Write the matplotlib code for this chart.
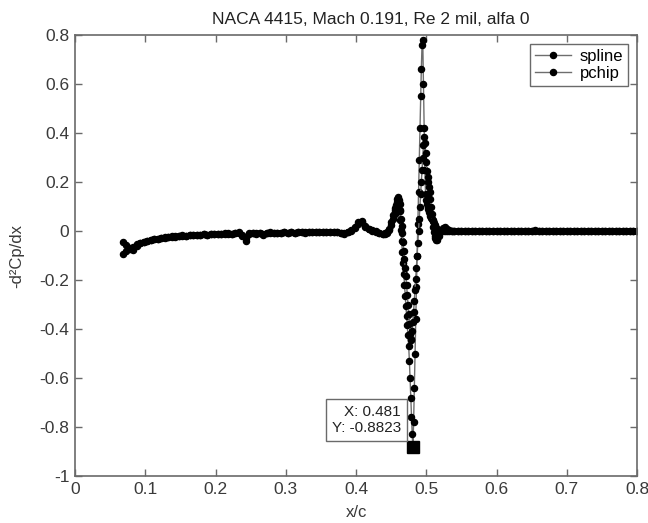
import matplotlib
matplotlib.use("Agg")
import matplotlib.pyplot as plt

plt.rcParams['font.family'] = ['Liberation Sans', 'DejaVu Sans']

title = "NACA 4415, Mach 0.191, Re 2 mil, alfa 0"
series_names = ["spline", "pchip"]

# shared x/c sample locations
x_left = [0.068, 0.073, 0.078, 0.083, 0.088, 0.093, 0.098, 0.103, 0.108, 0.113,
          0.118, 0.123, 0.128, 0.133, 0.138, 0.143, 0.148, 0.153, 0.158, 0.163,
          0.168, 0.173, 0.178, 0.183, 0.188, 0.193, 0.198, 0.203, 0.208, 0.213,
          0.218, 0.223, 0.228, 0.233, 0.238, 0.243, 0.248, 0.253, 0.258, 0.263,
          0.268, 0.273, 0.278, 0.283, 0.288, 0.293, 0.298, 0.303, 0.308, 0.313,
          0.318, 0.323, 0.328, 0.333, 0.338, 0.343, 0.348, 0.353, 0.358, 0.363,
          0.368, 0.373, 0.378, 0.383, 0.388, 0.393, 0.398, 0.403, 0.408, 0.413,
          0.418, 0.423, 0.428, 0.433, 0.438]
x_mid = [0.441, 0.444, 0.447, 0.450, 0.453,
         0.455, 0.456, 0.457, 0.458, 0.459, 0.460, 0.461, 0.462, 0.463, 0.464,
         0.465, 0.466, 0.467, 0.468, 0.469, 0.470, 0.471, 0.472, 0.473, 0.474,
         0.475, 0.476, 0.477, 0.478, 0.479, 0.480, 0.481, 0.482, 0.483, 0.484,
         0.485, 0.486, 0.487, 0.488, 0.489, 0.490, 0.491, 0.492, 0.493, 0.494,
         0.495, 0.496, 0.497, 0.498, 0.499, 0.500, 0.501, 0.502, 0.503, 0.504,
         0.505, 0.506, 0.507, 0.508, 0.509, 0.510, 0.511, 0.512, 0.513, 0.514,
         0.515,
         0.518, 0.521, 0.524, 0.527, 0.530, 0.533, 0.536, 0.539]
x_right = [0.545, 0.550, 0.555, 0.560, 0.565, 0.570, 0.575, 0.580, 0.585, 0.590,
           0.595, 0.600, 0.605, 0.610, 0.615, 0.620, 0.625, 0.630, 0.635, 0.640,
           0.645, 0.650, 0.655, 0.660, 0.665, 0.670, 0.675, 0.680, 0.685, 0.690,
           0.695, 0.700, 0.705, 0.710, 0.715, 0.720, 0.725, 0.730, 0.735, 0.740,
           0.745, 0.750, 0.755, 0.760, 0.765, 0.770, 0.775, 0.780, 0.785, 0.790,
           0.795, 0.800]

spline_left = [-0.045, -0.058, -0.072, -0.065, -0.055, -0.048, -0.044, -0.040, -0.036, -0.034,
               -0.031, -0.028, -0.027, -0.025, -0.022, -0.024, -0.020, -0.019, -0.021, -0.017,
               -0.016, -0.018, -0.015, -0.014, -0.016, -0.013, -0.012, -0.014, -0.011, -0.012,
               -0.010, -0.013, -0.009, -0.006, -0.020, -0.040, -0.012, -0.008, -0.011, -0.007,
               -0.015, -0.009, -0.006, -0.008, -0.007, -0.009, -0.006, -0.007, -0.005, -0.008,
               -0.006, -0.005, -0.007, -0.004, -0.006, -0.005, -0.004, -0.006, -0.004, -0.003,
               -0.005, -0.004, -0.008, -0.012, -0.006, 0.005, 0.015, 0.035, 0.040, 0.020,
               0.010, 0.005, -0.002, -0.008, -0.012]
spline_mid = [-0.010, -0.005, 0.010, 0.035, 0.065,
              0.085, 0.095, 0.108, 0.120, 0.132, 0.140, 0.120, 0.085, 0.045, 0.005,
              -0.040, -0.085, -0.130, -0.175, -0.220, -0.265, -0.305, -0.345, -0.385, -0.425,
              -0.470, -0.530, -0.600, -0.680, -0.760, -0.830, -0.882, -0.780, -0.640, -0.500,
              -0.360, -0.230, -0.100, 0.030, 0.160, 0.290, 0.420, 0.550, 0.660, 0.760,
              0.780, 0.600, 0.420, 0.250, 0.150, 0.125, 0.110, 0.098, 0.088, 0.078,
              0.068, 0.060, 0.054, 0.048, 0.044, 0.040, 0.033, 0.026, 0.020, 0.014,
              0.010,
              0.004, 0.001, -0.002, -0.001, 0.000, 0.000, 0.001, 0.000]
spline_right = [0.000, 0.001, 0.000, 0.000, -0.001, 0.000, 0.000, 0.000, 0.001, 0.000,
                0.000, 0.000, 0.000, -0.001, 0.000, 0.000, 0.000, 0.000, 0.000, 0.000,
                0.000, 0.000, 0.003, 0.001, 0.000, 0.000, 0.000, 0.000, 0.000, 0.000,
                0.000, 0.000, 0.000, 0.000, 0.000, 0.000, 0.000, 0.000, 0.000, 0.000,
                0.000, 0.000, 0.000, 0.000, 0.000, 0.000, 0.000, 0.000, 0.000, 0.000,
                0.000, 0.000]

pchip_left = [-0.095, -0.082, -0.070, -0.078, -0.060, -0.050, -0.045, -0.041, -0.038, -0.033,
              -0.032, -0.029, -0.026, -0.026, -0.023, -0.022, -0.021, -0.018, -0.019, -0.018,
              -0.015, -0.017, -0.016, -0.013, -0.015, -0.014, -0.011, -0.013, -0.012, -0.010,
              -0.011, -0.012, -0.008, -0.010, -0.015, -0.030, -0.010, -0.009, -0.010, -0.008,
              -0.012, -0.008, -0.007, -0.007, -0.008, -0.008, -0.005, -0.008, -0.006, -0.007,
              -0.005, -0.006, -0.006, -0.005, -0.005, -0.004, -0.005, -0.005, -0.003, -0.004,
              -0.004, -0.005, -0.007, -0.010, -0.005, 0.002, 0.012, 0.028, 0.036, 0.018,
              0.008, 0.002, -0.004, -0.010, -0.014]
pchip_mid = [-0.012, -0.008, 0.005, 0.025, 0.050,
             0.068, 0.078, 0.088, 0.098, 0.108, 0.118, 0.125, 0.110, 0.080, 0.050,
             0.020, -0.010, -0.045, -0.080, -0.115, -0.150, -0.185, -0.220, -0.260, -0.300,
             -0.340, -0.380, -0.420, -0.445, -0.440, -0.410, -0.370, -0.330, -0.285, -0.240,
             -0.195, -0.150, -0.100, -0.050, 0.000, 0.050, 0.100, 0.150, 0.200, 0.250,
             0.300, 0.350, 0.385, 0.360, 0.320, 0.280, 0.245, 0.220, 0.200, 0.180,
             0.160, 0.130, 0.100, 0.070, 0.040, 0.015, -0.005, -0.020, -0.030, -0.036,
             -0.037,
             -0.020, 0.000, 0.012, 0.018, 0.010, 0.004, 0.000, -0.002]
pchip_right = [0.000, 0.000, 0.001, 0.000, 0.000, 0.000, -0.001, 0.000, 0.000, 0.000,
               0.000, 0.001, 0.000, 0.000, 0.000, 0.000, 0.000, 0.000, 0.000, 0.000,
               0.000, 0.000, 0.002, 0.000, 0.000, 0.000, 0.000, 0.000, 0.000, 0.000,
               0.000, 0.000, 0.000, 0.000, 0.000, 0.000, 0.000, 0.000, 0.000, 0.000,
               0.000, 0.000, 0.000, 0.000, 0.000, 0.000, 0.000, 0.000, 0.000, 0.000,
               0.000, 0.000]

tip_x = 0.481
tip_y = -0.8823

x_all = x_left + x_mid + x_right
spline_y = spline_left + spline_mid + spline_right
pchip_y = pchip_left + pchip_mid + pchip_right

fig = plt.figure(figsize=(6.48, 5.23), dpi=100)
ax = fig.add_axes([75/648, 1-476/523, (637-75)/648, (476-35)/523])

line_col = '#6e6e6e'
ax.plot(x_all, spline_y, color=line_col, lw=1.0, marker='o', ms=4.4,
        mfc='black', mec='black', label=series_names[0])
ax.plot(x_all, pchip_y, color=line_col, lw=1.0, marker='o', ms=4.4,
        mfc='black', mec='black', label=series_names[1])

ax.set_xlim(0, 0.8)
ax.set_ylim(-1, 0.8)
ax.set_xticks([0, 0.1, 0.2, 0.3, 0.4, 0.5, 0.6, 0.7, 0.8])
ax.set_xticklabels(['0', '0.1', '0.2', '0.3', '0.4', '0.5', '0.6', '0.7', '0.8'])
ax.set_yticks([-1, -0.8, -0.6, -0.4, -0.2, 0, 0.2, 0.4, 0.6, 0.8])
ax.set_yticklabels(['-1', '-0.8', '-0.6', '-0.4', '-0.2', '0', '0.2', '0.4', '0.6', '0.8'])

frame_col = '#6a6a6a'
for s in ax.spines.values():
    s.set_color(frame_col)
    s.set_linewidth(1.2)
ax.tick_params(direction='in', top=True, right=True, length=5, width=1,
               color=frame_col, labelsize=12.5, labelcolor='#3a3a3a', pad=4)

ax.set_title(title, fontsize=12.5, color='#222222', pad=8, x=0.527)
ax.set_xlabel('x/c', fontsize=12, color='#3a3a3a', labelpad=6)
ax.set_ylabel('-d\u00b2Cp/dx', fontsize=12, color='#3a3a3a', labelpad=11)

leg = ax.legend(loc='upper right', fontsize=12, fancybox=False, framealpha=1,
                edgecolor=frame_col, borderaxespad=0.55, handlelength=2.2,
                labelspacing=0.12, borderpad=0.28, handletextpad=0.5)
leg.get_frame().set_linewidth(1.0)

# data tip
ax.plot([tip_x], [tip_y], marker='s', ms=8, color='black', ls='none', zorder=5)
ax.annotate('X: {:.3f}\nY: {:.4f}'.format(tip_x, tip_y), xy=(tip_x, tip_y),
            xytext=(-8.5, 8.5), textcoords='offset points', ha='right', va='bottom',
            fontsize=11, color='#222222', multialignment='right',
            bbox=dict(boxstyle='square,pad=0.4', fc='white', ec='#6a6a6a', lw=1.0),
            zorder=6)

fig.savefig('out.png', dpi=100)
